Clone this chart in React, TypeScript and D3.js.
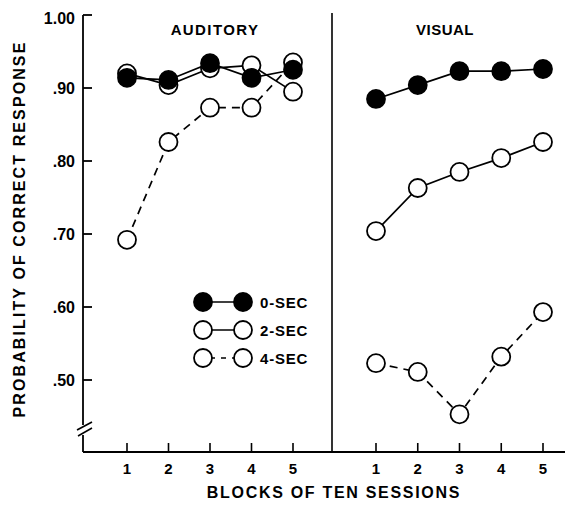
import React from 'react';
import * as d3 from 'd3';

// Blocks of ten sessions
const blocks = [1, 2, 3, 4, 5];

// Auditory panel, probability of correct response per delay
const auditory0 = [0.914, 0.911, 0.934, 0.914, 0.925];
const auditory2 = [0.92, 0.904, 0.927, 0.931, 0.895];
const auditory4 = [0.692, 0.826, 0.873, 0.873, 0.935];

// Visual panel
const visual0 = [0.885, 0.904, 0.923, 0.923, 0.926];
const visual2 = [0.704, 0.763, 0.785, 0.804, 0.826];
const visual4 = [0.523, 0.511, 0.453, 0.532, 0.593];

const yTicks = [1.0, 0.9, 0.8, 0.7, 0.6, 0.5];
const yTickLabels = ['1.00', '.90', '.80', '.70', '.60', '.50'];

const legendLabels = ['0-SEC', '2-SEC', '4-SEC'];

const width = 565;
const height = 506;
const font = '"Liberation Sans", Arial, Helvetica, sans-serif';

const App = () => {
  const y = d3.scaleLinear().domain([0.5, 1.0]).range([380, 15]);
  const xLeft = d3.scaleLinear().domain([1, 5]).range([127, 293]);
  const xRight = d3.scaleLinear().domain([1, 5]).range([376, 543]);

  const axisX = 83;
  const baseY = 452;
  const dividerX = 332;
  const r = 9;

  const series = (x: d3.ScaleLinear<number, number>, vals: number[]) =>
    blocks.map((b, i) => [x(b), y(vals[i])] as [number, number]);

  const line = d3.line();

  // draw order: 4-sec, 2-sec, 0-sec (filled on top)
  const panels = [
    { x: xLeft, s: [auditory4, auditory2, auditory0] },
    { x: xRight, s: [visual4, visual2, visual0] },
  ];
  const styles = [
    { dash: '8,6', fill: 'white' },
    { dash: null, fill: 'white' },
    { dash: null, fill: 'black' },
  ];

  return (
    <svg
      width={width}
      height={height}
      style={{ position: 'absolute', left: 0, top: 0, background: 'white' }}
      fontFamily={font}
      fontWeight="bold"
    >
      {/* y axis with break */}
      <line x1={axisX} y1={y(1.0)} x2={axisX} y2={425} stroke="black" strokeWidth={1.8} />
      <line x1={axisX} y1={435} x2={axisX} y2={baseY} stroke="black" strokeWidth={1.8} />
      <line x1={77} y1={430} x2={92} y2={422} stroke="black" strokeWidth={1.6} />
      <line x1={78} y1={436} x2={92} y2={428} stroke="black" strokeWidth={1.6} />

      {yTicks.map((t, i) => (
        <g key={t}>
          <line x1={axisX} y1={y(t)} x2={axisX + 9} y2={y(t)} stroke="black" strokeWidth={1.8} />
          <text
            x={75}
            y={y(t) + 6}
            textAnchor="end"
            fontSize={16}
            dy={t === 1.0 ? 3 : 0}
          >
            {yTickLabels[i]}
          </text>
        </g>
      ))}

      {/* x axis */}
      <line x1={axisX} y1={baseY} x2={width} y2={baseY} stroke="black" strokeWidth={1.8} />
      <line x1={dividerX} y1={13} x2={dividerX} y2={baseY} stroke="black" strokeWidth={1.6} />
      {[xLeft, xRight].map((x, k) =>
        blocks.map((b) => (
          <g key={`${k}-${b}`}>
            <line x1={x(b)} y1={baseY} x2={x(b)} y2={baseY - 9} stroke="black" strokeWidth={1.6} />
            <text x={x(b)} y={baseY + 22} textAnchor="middle" fontSize={15}>
              {b}
            </text>
          </g>
        ))
      )}

      {/* panel titles */}
      <text x={215} y={35} textAnchor="middle" fontSize={15} letterSpacing={1.4}>
        AUDITORY
      </text>
      <text x={445} y={35} textAnchor="middle" fontSize={15} letterSpacing={0.5}>
        VISUAL
      </text>

      {/* axis titles */}
      <text x={334} y={498} textAnchor="middle" fontSize={16} letterSpacing={1.7}>
        BLOCKS OF TEN SESSIONS
      </text>
      <text
        transform="translate(25,229) rotate(-90)"
        textAnchor="middle"
        fontSize={16}
        letterSpacing={2.1}
      >
        PROBABILITY OF CORRECT RESPONSE
      </text>

      {/* data lines */}
      {panels.map((p, pi) =>
        p.s.map((vals, si) => (
          <path
            key={`l-${pi}-${si}`}
            d={line(series(p.x, vals)) || ''}
            fill="none"
            stroke="black"
            strokeWidth={1.7}
            strokeDasharray={styles[si].dash || undefined}
          />
        ))
      )}
      {/* data points */}
      {panels.map((p, pi) =>
        p.s.map((vals, si) =>
          series(p.x, vals).map(([cx, cy], i) => (
            <circle
              key={`c-${pi}-${si}-${i}`}
              cx={cx}
              cy={cy}
              r={r}
              fill={styles[si].fill}
              stroke="black"
              strokeWidth={1.8}
            />
          ))
        )
      )}

      {/* legend */}
      {legendLabels.map((lab, i) => {
        const ly = 302 + i * 28;
        const st = styles[2 - i];
        return (
          <g key={lab}>
            <line
              x1={203}
              y1={ly}
              x2={243}
              y2={ly}
              stroke="black"
              strokeWidth={1.7}
              strokeDasharray={st.dash ? '5,6' : undefined}
              strokeDashoffset={st.dash ? -7 : 0}
            />
            <circle cx={203} cy={ly} r={r} fill={st.fill} stroke="black" strokeWidth={1.8} />
            <circle cx={243} cy={ly} r={r} fill={st.fill} stroke="black" strokeWidth={1.8} />
            <text x={260} y={ly + 5.5} fontSize={15} letterSpacing={0.8}>
              {lab}
            </text>
          </g>
        );
      })}
    </svg>
  );
};

export default App;
